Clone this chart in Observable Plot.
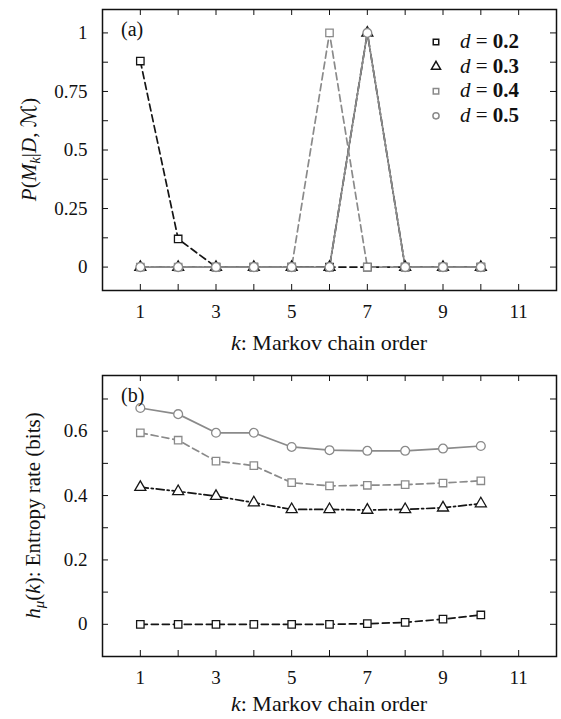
<!DOCTYPE html>
<html>
<head>
<meta charset="utf-8">
<script src="https://cdn.jsdelivr.net/npm/d3@7"></script>
<script src="https://cdn.jsdelivr.net/npm/@observablehq/plot@0.6"></script>
<style>
  html, body { margin: 0; padding: 0; background: #fff; }
  #chart svg { display: block; }
</style>
</head>
<body>
<div id="chart"></div>
<script>
// Markov chain orders k
const orders = [1, 2, 3, 4, 5, 6, 7, 8, 9, 10];
// Process parameter d for each curve
const dLabels = ["0.2", "0.3", "0.4", "0.5"];

// (a) posterior probability of each model order
const posterior02 = [0.88, 0.12, 0, 0, 0, 0, 0, 0, 0, 0];
const posterior03 = [0, 0, 0, 0, 0, 0, 1, 0, 0, 0];
const posterior04 = [0, 0, 0, 0, 0, 1, 0, 0, 0, 0];
const posterior05 = [0, 0, 0, 0, 0, 0, 1, 0, 0, 0];

// (b) estimated entropy rate (bits) per order
const entropy02 = [0, 0, 0, 0, 0, 0, 0.002, 0.006, 0.016, 0.029];
const entropy03 = [0.426, 0.413, 0.398, 0.378, 0.357, 0.357, 0.355, 0.357, 0.362, 0.375];
const entropy04 = [0.595, 0.572, 0.507, 0.493, 0.440, 0.430, 0.432, 0.434, 0.439, 0.446];
const entropy05 = [0.672, 0.653, 0.595, 0.595, 0.551, 0.541, 0.539, 0.539, 0.546, 0.554];

// Tick values
const xTickLabels = [1, 3, 5, 7, 9, 11];
const xTickMarks = [1, 2, 3, 4, 5, 6, 7, 8, 9, 10, 11];
const yTickLabelsA = [0, 0.25, 0.5, 0.75, 1];
const yTickMarksA = [0, 0.125, 0.25, 0.375, 0.5, 0.625, 0.75, 0.875, 1];
const yTickLabelsB = [0, 0.2, 0.4, 0.6];
const yTickMarksB = [0, 0.1, 0.2, 0.3, 0.4, 0.5, 0.6, 0.7];

// Drawing style of each curve
const styles = [
  {stroke: "#151515", dash: "7,4", symbol: "square", r: 4.2},
  {stroke: "#151515", dash: "8,3,2,3", symbol: "triangle", r: 4.1},
  {stroke: "#8a8a8a", dash: "7,4", symbol: "square", r: 4.2},
  {stroke: "#8a8a8a", dash: null, symbol: "circle", r: 4.4}
];

const W = 561;
const M = {left: 102, right: 5, top: 9};
const FRAME_H = 281;
const FRAME_W = W - M.left - M.right;
const TICK = 6;
const FONT = "'Liberation Serif', 'DejaVu Serif', serif";

function toRows(valuesList) {
  return valuesList.map((vals, i) =>
    orders.map((k, j) => ({k, v: vals[j], d: dLabels[i]})));
}

function panel({series, yDomain, yLabels, yMarks, height, tag, yLabel, yLabelX, xLabelY, legend}) {
  const marks = [];
  series.forEach((rows, i) => {
    const s = styles[i];
    marks.push(Plot.line(rows, {x: "k", y: "v", stroke: s.stroke, strokeWidth: 1.7,
      strokeDasharray: s.dash ?? undefined}));
  });
  series.forEach((rows, i) => {
    const s = styles[i];
    marks.push(Plot.dot(rows, {x: "k", y: "v", symbol: () => s.symbol, r: s.r,
      stroke: s.stroke, fill: "white", strokeWidth: 1.3}));
  });
  const svg = Plot.plot({
    width: W,
    height,
    marginLeft: M.left,
    marginRight: M.right,
    marginTop: M.top,
    marginBottom: height - M.top - FRAME_H,
    style: {fontFamily: FONT, fontSize: "19px", color: "#111", background: "#fff"},
    x: {domain: [0, 12], axis: null},
    y: {domain: yDomain, axis: null},
    symbol: {type: "identity"},
    marks: [
      Plot.axisX(xTickLabels, {tickSize: 0, tickPadding: 14, fontSize: 19, label: null,
        tickFormat: d => String(d)}),
      Plot.axisY(yLabels, {tickSize: 0, tickPadding: 15, fontSize: 19, label: null,
        tickFormat: d => String(d)}),
      Plot.tickX(xTickMarks, {x: d => d, insetTop: FRAME_H - TICK, stroke: "#111", strokeWidth: 1}),
      Plot.tickX(xTickMarks, {x: d => d, insetBottom: FRAME_H - TICK, stroke: "#111", strokeWidth: 1}),
      Plot.tickY(yMarks, {y: d => d, insetRight: FRAME_W - TICK, stroke: "#111", strokeWidth: 1}),
      Plot.tickY(yMarks, {y: d => d, insetLeft: FRAME_W - TICK, stroke: "#111", strokeWidth: 1}),
      ...marks,
      Plot.frame({stroke: "#111", strokeWidth: 1.5})
    ]
  });

  const root = d3.select(svg);

  // panel tag
  root.append("text")
    .attr("x", 121).attr("y", 36)
    .attr("text-anchor", "start")
    .attr("font-family", FONT).attr("font-size", 20).attr("fill", "#111")
    .text(tag);

  // x axis title
  const xt = root.append("text")
    .attr("x", M.left + FRAME_W / 2).attr("y", xLabelY)
    .attr("text-anchor", "middle")
    .attr("font-family", FONT).attr("font-size", 22).attr("fill", "#111");
  xt.append("tspan").attr("font-style", "italic").text("k");
  xt.append("tspan").text(": Markov chain order");

  // y axis title (rotated)
  const yt = root.append("text")
    .attr("transform", `translate(${yLabelX},${M.top + FRAME_H / 2}) rotate(-90)`)
    .attr("text-anchor", "middle")
    .attr("font-family", FONT).attr("font-size", 21).attr("fill", "#111");
  yLabel.forEach(p => {
    const t = yt.append("tspan").text(p.t);
    if (p.i) t.attr("font-style", "italic");
    if (p.f) t.attr("font-family", p.f);
    if (p.sub) t.attr("font-size", 15).attr("dy", 4);
    if (p.up) t.attr("dy", -4);
  });

  if (legend) {
    const g = root.append("g");
    dLabels.forEach((d, i) => {
      const s = styles[i];
      const yy = 42 + 24.6 * i;
      const size = s.symbol === "circle" ? 30 : s.symbol === "triangle" ? 36 : 30;
      g.append("path")
        .attr("transform", `translate(436,${yy})`)
        .attr("d", d3.symbol(s.symbol === "square" ? d3.symbolSquare
          : s.symbol === "triangle" ? d3.symbolTriangle : d3.symbolCircle, size)())
        .attr("fill", "white").attr("stroke", s.stroke).attr("stroke-width", 1.5);
      const t = g.append("text")
        .attr("x", 460).attr("y", yy + 6)
        .attr("text-anchor", "start")
        .attr("font-family", FONT).attr("font-size", 21).attr("fill", "#111");
      t.append("tspan").attr("font-style", "italic").text("d");
      t.append("tspan").text(" = ");
      t.append("tspan").attr("font-weight", "bold").text(d);
    });
  }
  return svg;
}

const chart = document.getElementById("chart");

chart.appendChild(panel({
  series: toRows([posterior02, posterior03, posterior04, posterior05]),
  yDomain: [-0.1, 1.1],
  yLabels: yTickLabelsA,
  yMarks: yTickMarksA,
  height: 366,
  tag: "(a)",
  yLabelX: 36,
  xLabelY: 350,
  yLabel: [
    {t: "P", i: true}, {t: "("}, {t: "M", i: true}, {t: "k", i: true, sub: true},
    {t: "|", up: true}, {t: "D", i: true}, {t: ", "},
    {t: "\u2133", f: "'DejaVu Serif', 'DejaVu Sans', serif"}, {t: ")"}
  ],
  legend: true
}));

chart.appendChild(panel({
  series: toRows([entropy02, entropy03, entropy04, entropy05]),
  yDomain: [-0.1, 0.773],
  yLabels: yTickLabelsB,
  yMarks: yTickMarksB,
  height: 353,
  tag: "(b)",
  yLabelX: 40,
  xLabelY: 345,
  yLabel: [
    {t: "h", i: true}, {t: "\u03bc", i: true, sub: true}, {t: "(", up: true},
    {t: "k", i: true}, {t: "): Entropy rate (bits)"}
  ],
  legend: false
}));
</script>
</body>
</html>
